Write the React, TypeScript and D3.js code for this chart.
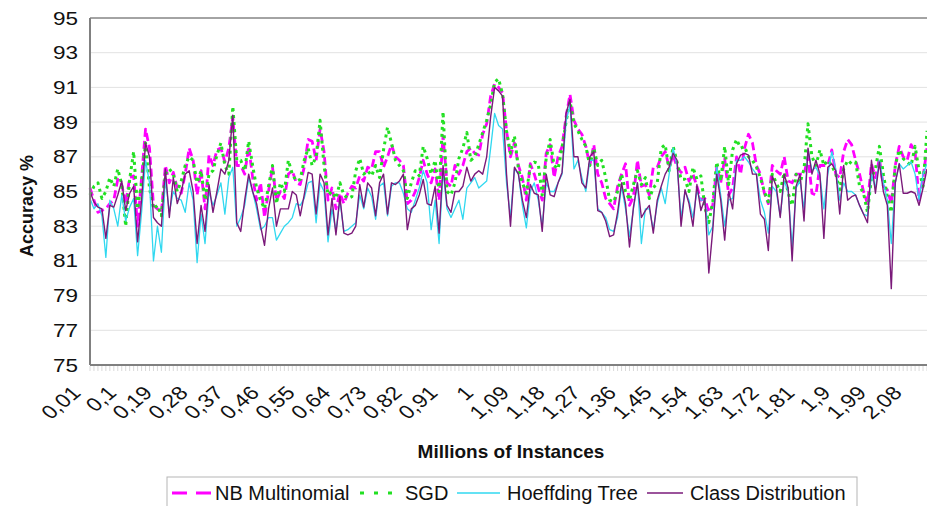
import React from "react";
import * as d3 from "d3";

// ---- data (Millions of Instances vs Accuracy %) ----
const categories: string[] = d3.range(1, 213).map((v) => String(v / 100).replace(".", ","));
const tickLabels: string[] = ["0,01","0,1","0,19","0,28","0,37","0,46","0,55","0,64","0,73","0,82","0,91","1","1,09","1,18","1,27","1,36","1,45","1,54","1,63","1,72","1,81","1,9","1,99","2,08"];
const yTickValues: number[] = [75, 77, 79, 81, 83, 85, 87, 89, 91, 93, 95];

const nbMultinomial: number[] = [
85.2,84.5,83.8,83.9,84.0,84.3,84.5,85.7,85.4,84.3,
85.8,85.9,83.0,85.8,88.6,87.5,84.2,84.0,83.8,86.5,
85.5,86.1,85.2,84.9,86.0,87.5,86.8,84.8,86.2,84.0,
87.1,86.5,87.4,87.5,86.7,87.5,89.3,86.5,86.5,
86.0,87.6,85.8,84.5,85.5,83.5,85.0,86.4,84.5,85.0,
84.6,86.0,86.2,85.5,85.4,86.4,88.0,87.9,86.8,88.6,
87.3,84.5,85.2,84.0,84.9,84.3,84.9,85.3,85.2,85.9,
85.6,86.4,86.3,87.3,87.3,86.4,87.0,87.7,87.0,86.8,
86.5,84.3,84.5,85.0,85.8,86.8,86.0,85.5,86.3,84.5,
88.2,85.5,85.3,86.5,86.0,86.5,87.3,87.5,87.2,
87.1,88.3,88.9,90.5,91.2,91.0,90.7,88.5,87.0,87.8,
86.5,85.8,84.5,86.6,86.0,85.2,84.5,87.2,87.7,85.8,
87.0,87.6,89.3,90.6,89.1,88.6,88.3,87.6,86.5,87.7,
86.0,85.5,84.6,84.3,84.0,85.3,86.0,86.6,84.2,84.7,
86.8,85.3,85.4,84.8,86.4,86.4,87.0,87.3,86.4,87.1,
86.4,86.1,86.4,85.6,86.0,85.3,84.5,84.6,83.8,84.2,
86.4,85.5,86.9,84.8,85.2,87.0,86.0,87.5,88.3,
87.8,86.5,86.0,84.9,84.3,86.5,86.2,86.0,87.0,85.6,
85.5,86.0,86.0,86.0,87.0,84.9,84.8,86.5,86.5,86.5,
87.4,86.0,85.8,87.3,88.0,87.7,86.8,86.0,85.0,84.3,
86.6,85.8,86.9,85.3,85.1,84.3,86.5,87.6,87.0,86.8,
87.7,87.3,84.5,85.8,87.5
];

const sgd: number[] = [
84.8,85.3,85.5,84.6,85.0,85.8,85.3,86.3,85.4,83.0,
85.7,87.3,84.0,85.5,87.8,85.2,84.0,84.2,83.6,86.0,
86.3,86.0,85.0,85.6,86.5,87.0,86.8,85.5,86.2,84.5,
86.0,86.2,87.1,87.8,86.5,86.0,89.9,86.8,86.8,
86.2,87.9,86.5,85.2,84.5,84.0,85.3,86.5,84.3,85.5,
85.0,86.8,86.0,85.6,85.7,86.8,87.5,86.5,87.0,89.1,
86.5,84.8,85.0,84.6,85.5,84.8,84.6,84.7,86.2,86.9,
86.0,86.2,85.9,86.5,85.8,87.4,88.7,87.8,86.8,86.5,
86.2,84.6,85.5,86.2,85.9,87.6,86.9,86.0,86.8,85.0,
89.6,85.0,84.8,85.5,86.9,87.5,88.4,86.8,87.0,
87.7,88.4,89.1,90.0,91.3,91.5,90.6,88.5,87.2,88.2,
86.3,85.5,84.9,86.5,86.7,86.6,84.8,86.9,88.0,86.5,
86.3,87.5,89.0,90.2,88.9,88.5,88.0,87.6,86.5,87.5,
86.5,86.8,85.8,84.5,84.4,85.0,86.0,85.0,84.5,85.4,
86.2,85.4,85.8,84.6,85.2,85.5,87.5,87.7,86.2,87.6,
86.7,85.7,85.7,85.0,86.4,85.7,85.9,84.1,83.2,84.4,
86.7,85.6,87.6,85.4,87.4,88.0,87.5,87.6,87.0,
86.8,86.4,85.8,85.0,84.4,86.0,85.5,85.0,86.1,84.9,
84.2,86.0,85.5,86.3,88.9,87.0,86.5,87.4,86.5,86.8,
86.5,86.0,85.1,86.3,86.8,86.6,86.7,85.3,84.9,83.8,
85.8,86.3,87.6,86.0,84.7,83.8,86.5,87.4,86.9,86.7,
86.5,87.6,86.2,85.3,88.5
];

const hoeffdingTree: number[] = [
84.6,84.0,84.3,83.6,81.2,84.5,84.0,83.0,84.8,83.3,
84.1,84.6,81.3,83.8,86.8,85.5,81.0,83.0,81.5,85.8,
83.8,85.0,84.6,84.5,83.8,85.5,84.5,80.9,83.7,82.0,
85.0,84.2,84.8,85.5,83.7,85.8,86.4,83.0,83.5,
84.2,85.8,85.0,84.0,82.8,83.0,83.5,83.5,82.2,82.6,
83.0,83.2,83.5,84.3,84.2,84.6,85.5,85.6,83.2,85.5,
85.0,82.1,84.0,82.7,84.5,82.7,82.8,83.0,83.2,84.8,
84.0,85.2,84.7,83.4,85.3,85.5,83.6,85.3,85.5,85.5,
84.9,84.0,83.8,84.5,85.2,86.2,85.5,82.8,84.5,82.0,
86.2,84.0,83.5,84.0,84.5,83.4,85.2,85.5,85.8,
85.2,85.4,85.6,87.5,89.5,88.8,88.6,85.5,83.5,86.3,
86.0,84.2,82.9,85.0,85.5,84.5,83.0,85.5,85.0,85.0,
85.5,86.0,89.0,90.0,86.3,86.8,85.8,85.0,86.8,86.8,
84.0,83.8,83.5,82.8,82.7,83.5,85.3,84.0,82.4,84.0,
85.5,82.0,84.0,84.0,82.8,84.3,85.2,84.3,86.0,87.5,
86.5,83.5,85.0,84.5,83.5,85.0,84.5,84.5,82.5,83.0,
86.4,84.8,83.0,84.5,84.6,86.8,86.8,87.0,86.7,
86.3,86.0,84.5,83.8,82.6,85.3,85.0,83.6,85.6,85.0,
81.8,85.2,85.6,84.0,87.4,86.2,86.4,85.9,84.0,86.0,
87.3,86.3,84.5,85.5,85.0,85.0,84.8,84.2,83.7,83.6,
86.0,85.2,86.8,85.5,84.5,82.0,85.5,86.6,86.3,86.5,
86.7,86.0,84.5,86.0,86.6
];

const classDistribution: number[] = [
85.0,84.4,84.1,84.0,82.3,84.2,84.1,84.8,85.6,83.9,
84.9,85.3,82.1,84.5,87.8,87.0,83.5,83.2,83.0,86.3,
83.5,85.8,84.3,85.0,86.0,86.2,85.0,82.0,84.2,82.7,
85.4,83.8,85.0,86.3,86.0,86.8,89.4,83.2,82.7,
84.5,86.0,85.0,84.3,83.0,81.9,84.0,85.2,83.0,84.0,
84.0,84.0,85.0,84.8,83.6,84.8,86.1,86.0,83.7,86.0,
85.5,82.5,84.6,82.5,84.7,82.6,82.5,82.6,83.0,85.4,
84.1,85.5,85.2,83.6,85.5,86.0,83.7,85.5,85.4,85.6,
86.0,82.8,84.0,84.2,84.8,85.7,84.3,84.2,85.3,82.6,
86.5,84.2,83.8,85.0,85.0,85.3,86.4,85.6,86.0,
86.2,86.0,87.0,89.3,91.0,90.8,90.5,86.0,83.0,86.4,
86.0,84.5,83.5,85.4,84.9,84.8,82.7,86.0,84.8,84.7,
85.5,86.1,89.5,90.3,87.0,87.0,85.5,85.2,87.0,87.3,
83.9,83.8,83.3,82.4,82.5,83.8,85.5,84.3,81.8,84.1,
85.5,83.5,83.9,84.2,82.6,84.5,85.3,86.0,86.4,87.2,
86.8,83.0,85.1,84.3,83.0,85.4,83.9,84.6,80.3,82.8,
86.0,84.5,82.2,85.0,84.0,86.6,87.1,87.2,87.1,
86.0,86.0,83.7,83.4,81.6,85.9,85.3,83.5,86.0,85.2,
81.0,85.3,86.0,83.3,87.5,86.0,86.8,86.0,82.3,86.4,
86.6,86.2,83.7,86.5,84.5,84.7,84.8,84.2,83.7,83.2,
86.8,84.9,86.7,85.0,84.2,79.4,85.5,86.6,84.9,84.9,
85.0,84.9,84.2,85.2,86.3
];

const seriesNames: string[] = ["NB Multinomial", "SGD", "Hoeffding Tree", "Class Distribution"];

// ---- layout ----
const W = 927;
const H = 506;
const PL = 90;
const PT = 18;
const PB = 365;
const PR = 927;
const FONT = "'Liberation Sans', Arial, Helvetica, sans-serif";

const COLORS = {
  nb: "#ff00ff",
  sgd: "#22e022",
  ht: "#30d8f0",
  cd: "#7a1a7a",
};

export default function App() {
  const x = d3.scalePoint<string>().domain(categories).range([PL, PR]);
  const y = d3.scaleLinear().domain([75, 95]).range([PB, PT]);
  const line = d3
    .line<number>()
    .x((_, i) => x(categories[i]) as number)
    .y((d) => y(d));

  const series = [
    { name: seriesNames[0], data: nbMultinomial, color: COLORS.nb, width: 2.8, dash: "8,4" },
    { name: seriesNames[1], data: sgd, color: COLORS.sgd, width: 3, dash: "3,4" },
    { name: seriesNames[2], data: hoeffdingTree, color: COLORS.ht, width: 1.3, dash: undefined },
    { name: seriesNames[3], data: classDistribution, color: COLORS.cd, width: 1.4, dash: undefined },
  ];

  const tickIdx = tickLabels.map((t) => categories.indexOf(t));

  const legendItems = [
    { x1: 172, x2: 212, tx: 215, color: COLORS.nb, width: 2.8, dash: "15,9", label: seriesNames[0] },
    { x1: 360, x2: 398, tx: 405, color: COLORS.sgd, width: 3, dash: "4,10", label: seriesNames[1] },
    { x1: 457, x2: 500, tx: 507, color: COLORS.ht, width: 1.5, dash: undefined, label: seriesNames[2] },
    { x1: 647, x2: 683, tx: 690, color: COLORS.cd, width: 1.5, dash: undefined, label: seriesNames[3] },
  ];

  return (
    <svg
      width={W}
      height={H}
      viewBox={`0 0 ${W} ${H}`}
      style={{ position: "absolute", left: 0, top: 0, background: "#fff" }}
      fontFamily={FONT}
    >
      <rect x={0} y={0} width={W} height={H} fill="#fff" />
      {/* gridlines */}
      {yTickValues.map((v) => (
        <line key={"g" + v} x1={PL} x2={PR} y1={y(v)} y2={y(v)} stroke="#e2e2e2" strokeWidth={1} />
      ))}
      {/* category ticks */}
      {categories.map((c) => (
        <line key={"t" + c} x1={x(c)} x2={x(c)} y1={PB + 1} y2={PB + 6} stroke="#cfcfcf" strokeWidth={0.8} />
      ))}
      {/* series */}
      {series.map((s) => (
        <path
          key={s.name}
          d={line(s.data) || ""}
          fill="none"
          stroke={s.color}
          strokeWidth={s.width}
          strokeDasharray={s.dash}
          strokeLinejoin="round"
        />
      ))}
      {/* frame */}
      <line x1={PL} x2={PR} y1={PT} y2={PT} stroke="#8a8a8a" strokeWidth={1.5} />
      <line x1={PL} x2={PL} y1={PT} y2={PB} stroke="#808080" strokeWidth={2} />
      <line x1={PL} x2={PR} y1={PB} y2={PB} stroke="#808080" strokeWidth={2} />
      {/* y tick labels */}
      {yTickValues.map((v) => (
        <text
          key={"yl" + v}
          transform={`translate(78,${y(v) + 6.5}) scale(1.25,1)`}
          textAnchor="end"
          fontSize={18}
          fill="#111"
        >
          {v}
        </text>
      ))}
      {/* x tick labels */}
      {tickIdx.map((i, k) => (
        <text
          key={"xl" + k}
          transform={`translate(${(x(categories[i]) as number) - 8},394) scale(1.2,1) rotate(-45)`}
          textAnchor="end"
          fontSize={19}
          fill="#111"
        >
          {tickLabels[k]}
        </text>
      ))}
      {/* axis titles */}
      <text
        transform="translate(33,206) rotate(-90)"
        textAnchor="middle"
        fontSize={18}
        fontWeight="bold"
        fill="#111"
      >
        Accuracy %
      </text>
      <text x={511} y={458} textAnchor="middle" fontSize={19} fontWeight="bold" fill="#111">
        Millions of Instances
      </text>
      {/* legend */}
      <rect x={167} y={477} width={690} height={40} fill="#fff" stroke="#b5b5b5" strokeWidth={1} />
      {legendItems.map((l) => (
        <g key={l.label}>
          <line
            x1={l.x1}
            x2={l.x2}
            y1={493}
            y2={493}
            stroke={l.color}
            strokeWidth={l.width}
            strokeDasharray={l.dash}
          />
          <text x={l.tx} y={500} fontSize={20} fill="#111">
            {l.label}
          </text>
        </g>
      ))}
    </svg>
  );
}
